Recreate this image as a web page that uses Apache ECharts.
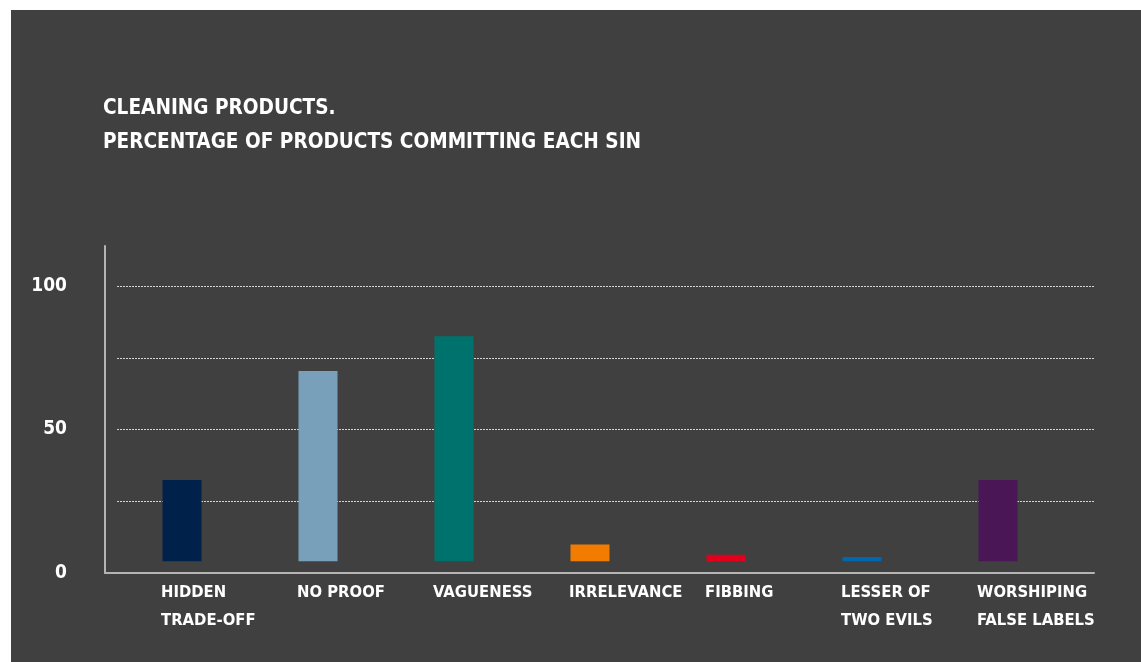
<!DOCTYPE html>
<html>
<head>
<meta charset="utf-8">
<script src="https://cdn.jsdelivr.net/npm/echarts@6/dist/echarts.min.js"></script>
<style>
html,body{margin:0;padding:0;background:#ffffff;width:1141px;height:662px;overflow:hidden;}
#chart{position:absolute;left:11px;top:10px;width:1130px;height:652px;}
</style>
</head>
<body>
<div id="chart"></div>
<script>
const categories = ['HIDDEN\nTRADE-OFF', 'NO PROOF', 'VAGUENESS', 'IRRELEVANCE', 'FIBBING', 'LESSER OF\nTWO EVILS', 'WORSHIPING\nFALSE LABELS'];
const values = [32.4, 70.4, 82.5, 9.9, 6.4, 5.6, 32.4];
const barBase = 4.1;
const barColors = ['#00214a', '#78a0bb', '#00726d', '#f27c00', '#e1001b', '#0067b1', '#4b1656'];
const yLabelValues = [0, 50, 100];
const titleLines = ['CLEANING PRODUCTS.', 'PERCENTAGE OF PRODUCTS COMMITTING EACH SIN'];

const FONT = '"DejaVu Sans Condensed", "DejaVu Sans", sans-serif';
const chart = echarts.init(document.getElementById('chart'), null, {renderer: 'canvas'});

const option = {
  backgroundColor: '#404040',
  animation: false,
  title: {
    text: titleLines.join('\n'),
    left: 92, top: 82, padding: 0,
    textStyle: {color: '#ffffff', fontFamily: FONT, fontWeight: 'bold', fontSize: 20.6, lineHeight: 34}
  },
  grid: [
    {left: 106, right: 46, top: 276, bottom: 89},   // gridlines + y labels
    {left: 103, right: 75, top: 276, bottom: 89},   // bars
    {left: 94, right: 47, top: 236, bottom: 89},    // axis lines
    {left: 82, right: 96, top: 276, bottom: 89}     // category labels
  ],
  xAxis: [
    {gridIndex: 0, type: 'value', show: false},
    {gridIndex: 1, type: 'category', data: categories, show: false},
    {gridIndex: 2, type: 'value', axisLine: {show: true, onZero: false, lineStyle: {color: '#b4b4b4', width: 2}}, axisTick: {show: false}, axisLabel: {show: false}, splitLine: {show: false}},
    {gridIndex: 3, type: 'category', data: categories, axisLine: {show: false}, axisTick: {show: false},
      axisLabel: {align: 'left', margin: 6, color: '#ffffff', fontFamily: FONT, fontWeight: 'bold', fontSize: 16.5, lineHeight: 28, interval: 0}}
  ],
  yAxis: [
    {gridIndex: 0, type: 'value', min: 0, max: 100, interval: 25,
      axisLine: {show: false}, axisTick: {show: false},
      axisLabel: {margin: 50, color: '#ffffff', fontFamily: FONT, fontWeight: 'bold', fontSize: 19,
        formatter: v => yLabelValues.indexOf(v) >= 0 ? String(v) : ''},
      splitLine: {show: true, lineStyle: {color: '#d4d4d4', width: 1, type: [2, 1]}}},
    {gridIndex: 1, type: 'value', min: 0, max: 100, show: false},
    {gridIndex: 2, type: 'value', min: 0, max: 114, axisLine: {show: true, lineStyle: {color: '#b4b4b4', width: 2}}, axisTick: {show: false}, axisLabel: {show: false}, splitLine: {show: false}},
    {gridIndex: 3, type: 'value', min: 0, max: 100, show: false}
  ],
  series: [{
    type: 'custom',
    xAxisIndex: 1, yAxisIndex: 1,
    data: values.map((v, i) => [i, v]),
    encode: {x: 0, y: 1},
    renderItem: function (params, api) {
      const i = api.value(0);
      const top = api.coord([i, api.value(1)]);
      const bot = api.coord([i, barBase]);
      const w = 39;
      return {type: 'rect', shape: {x: top[0] - w / 2, y: top[1], width: w, height: bot[1] - top[1]},
        style: {fill: barColors[i]}};
    }
  }]
};
chart.setOption(option);
</script>
</body>
</html>
